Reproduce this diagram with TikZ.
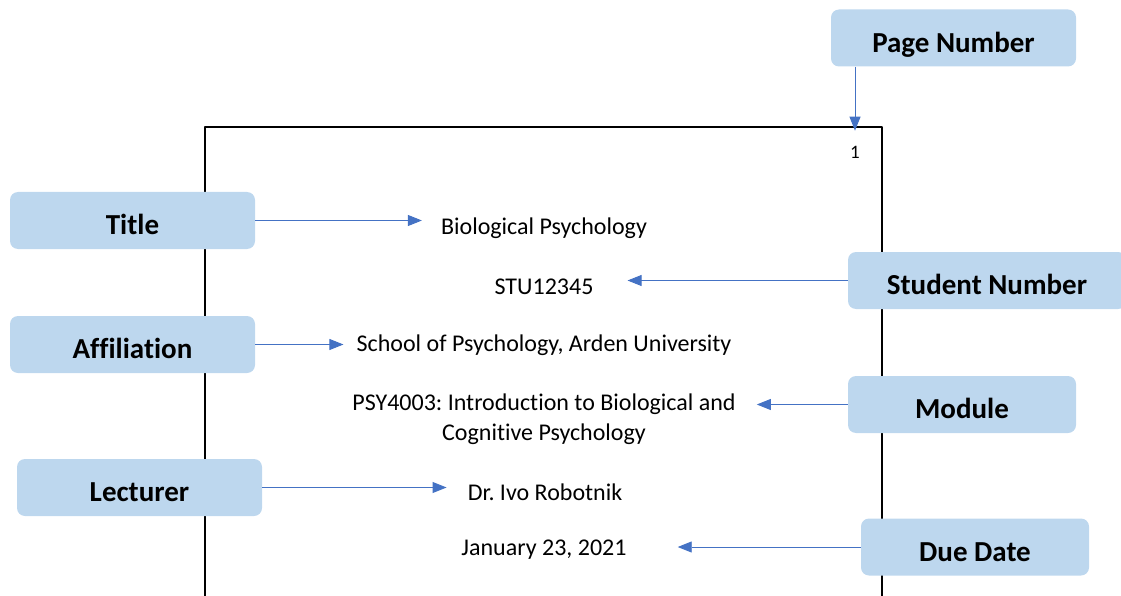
\documentclass[tikz,border=0pt]{standalone}
\usepackage{fontspec}
\setmainfont{Carlito}[Ligatures=NoCommon]
\usetikzlibrary{arrows.meta}
\definecolor{boxblue}{HTML}{BDD7EE}
\definecolor{arrblue}{HTML}{4472C4}
\tikzset{
  labelbox/.style={fill=boxblue, rounded corners=8pt, minimum height=57pt, text height=28.7pt, text depth=0pt, font=\fontsize{29}{32}\selectfont\bfseries},
  body/.style={inner sep=0pt, font=\fontsize{24}{30}\selectfont, align=center},
  arr/.style={->, draw=arrblue, line width=0.9pt}
}
\frenchspacing
\begin{document}
\begin{tikzpicture}[x=1pt,y=-1pt, line join=round, >={Triangle[length=14pt,width=11pt]}]
\def \pw{1121};
\def \ph{596};
\clip (0,0) rectangle (\pw,\ph);
% the page
\draw[line width=1.2pt] (205,\ph) |- (882,127) -- (882,\ph);
\node[inner sep=0pt, font=\fontsize{19}{21}\selectfont] (one) at (855,152) {1};
% title page lines
\node[body] (bio) at (544,228) {Biological Psychology};
\node[body] (stu) at (544,287) {STU12345};
\node[body] (school) at (544,345) {School of Psychology, Arden University};
\node[body] (psy) at (544,419) {PSY4003: Introduction to Biological and\\Cognitive Psychology};
\node[body] (ivo) at (545,492) {Dr. Ivo Robotnik};
\node[body] (jan) at (544,550) {January 23, 2021};
% labels
\node[labelbox, minimum width=245pt] (pnum) at (953.5,38) {Page Number};
\node[labelbox, minimum width=245pt] (title) at (132.5,220.5) {Title};
\node[labelbox, minimum width=278pt] (studnum) at (987,280.5) {Student Number};
\node[labelbox, minimum width=245pt] (affil) at (132.5,344.5) {Affiliation};
\node[labelbox, minimum width=228pt] (module) at (962,404.5) {Module};
\node[labelbox, minimum width=245pt] (lect) at (139.5,487.5) {Lecturer};
\node[labelbox, minimum width=228pt] (due) at (975,547) {Due Date};
% connectors
\draw[arr, shorten >=15pt] (pnum.south -| one) -- (one.north);
\foreach \n/\t/\g in {title/bio/19,affil/school/13,lect/ivo/21}{\draw[arr, shorten >=\g pt] (\n.east) -- (\n.east -| \t.west);}
\foreach \n/\t/\g in {studnum/stu/34,module/psy/21,due/jan/51}{\draw[arr, shorten >=\g pt] (\n.west) -- (\n.west -| \t.east);}
\end{tikzpicture}
\end{document}
